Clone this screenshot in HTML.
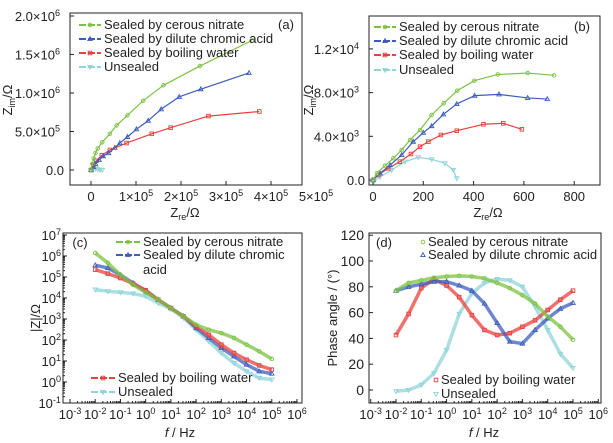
<!DOCTYPE html>
<html><head><meta charset="utf-8"><style>
body{margin:0;background:#fff}
svg{display:block;font-family:"Liberation Sans",sans-serif}
</style></head><body>
<svg id="fig" width="613" height="443" viewBox="0 0 613 443" xmlns="http://www.w3.org/2000/svg"></svg>
<script>
// ---------- data ----------
const seriesNames = ["Sealed by cerous nitrate","Sealed by dilute chromic acid","Sealed by boiling water","Unsealed"];
const colors = ["#7cc242","#3c5dbd","#e8413e","#8fd4d9"];
// (a) Nyquist, Zre in 1e5 ohm, Zim in 1e6 ohm
const aGreenX=[0,0.03,0.06,0.1,0.15,0.25,0.42,0.57,0.81,1.16,1.61,2.42,3.57];
const aGreenY=[0,0.08,0.15,0.22,0.28,0.36,0.47,0.58,0.71,0.90,1.10,1.35,1.68];
const aBlueX=[0,0.05,0.1,0.18,0.27,0.39,0.53,0.64,0.81,1.01,1.27,1.56,1.96,2.44,3.51];
const aBlueY=[0,0.04,0.08,0.13,0.18,0.22,0.29,0.35,0.43,0.53,0.64,0.79,0.95,1.05,1.26];
const aRedX=[0,0.05,0.12,0.24,0.42,0.79,1.35,1.77,2.61,3.74];
const aRedY=[0,0.06,0.12,0.19,0.26,0.35,0.47,0.55,0.70,0.76];
const aCyanX=[0,0.05,0.1,0.15,0.2,0.25];
const aCyanY=[0,0.01,0.02,0.01,0,0];
// (b) Nyquist zoom, ohm
const bGreenX=[0,15,48,81,114,147,187,233,281,335,403,496,615,720];
const bGreenY=[0,610,1320,1990,2750,3660,4580,5950,7020,8180,9090,9660,9790,9580];
const bBlueX=[0,28,68,114,160,200,233,280,333,404,501,615,693];
const bBlueY=[0,610,1370,2290,3510,4330,4940,6010,6960,7720,7840,7510,7410];
const bRedX=[0,21,61,107,151,187,220,270,333,439,518,592];
const bRedY=[0,460,1070,1680,2380,3050,3510,4120,4510,5100,5190,4640];
const bCyanX=[5,28,74,127,180,233,286,319,333];
const bCyanY=[-100,300,915,1680,2080,1890,1530,915,150];
// (c)/(d) Bode, log10 frequency
const logF=[-2,-1.5,-1,-0.5,0,0.5,1,1.5,2,2.5,3,3.5,4,4.5,5];
const cGreen=[6.14,5.67,5.1,4.63,4.27,3.92,3.52,3.13,2.73,2.49,2.33,2.10,1.78,1.46,1.10];
const cBlue=[5.56,5.43,5.1,4.71,4.32,3.92,3.52,3.13,2.57,2.10,1.62,1.22,0.83,0.51,0.40];
const cRed=[5.35,5.16,4.95,4.68,4.37,3.92,3.52,3.13,2.65,2.25,1.78,1.38,1.06,0.79,0.59];
const cCyan=[4.40,4.32,4.27,4.21,4.08,3.76,3.48,3.05,2.49,1.94,1.38,0.90,0.51,0.19,0.11];
const dGreen=[77,83,85,87,88,88.5,88,86.5,83,79,73.5,67,57,49,39];
const dBlue=[77,80,82,84,84,81,77,67,52,37.5,36,46.5,55.5,63,67.6];
const dRed=[42.6,59,79,86,81,72,58,46.5,42.6,44,49,54,62,70,77];
const dCyan=[-1,0,4,13,31,59,75,83,86,85,80,64.5,46.5,28,17];
const aTicksX=[0,1,2,3,4,5];
const aTicksY=[0,0.5,1.0,1.5,2.0];
const bTicksX=[0,200,400,600,800];
const bTicksY=[0,4000,8000,12000];
const logTicksX=[-3,-2,-1,0,1,2,3,4,5,6];
const cTicksY=[-1,0,1,2,3,4,5,6,7];
const dTicksY=[0,20,40,60,80,100,120];

// ---------- helpers ----------
const NS="http://www.w3.org/2000/svg";
const svg=document.getElementById('fig');
function el(tag,attrs,parent){const e=document.createElementNS(NS,tag);for(const k in attrs)e.setAttribute(k,attrs[k]);(parent||svg).appendChild(e);return e;}
function lin(d0,d1,r0,r1){return v=>r0+(v-d0)*(r1-r0)/(d1-d0);}
function supText(g,x,y,base,sup,anchor,size){
  const t=el('text',{x:x,y:y,'text-anchor':anchor,'font-size':size,fill:'#222'},g);
  t.appendChild(document.createTextNode(base));
  if(sup!==null){const s=el('tspan',{dy:-5,'font-size':size*0.7},t);s.textContent=sup;}
  return t;
}
function marker(g,type,x,y,c){
  let m;
  if(type===0) m=el('circle',{cx:x,cy:y,r:1.8,fill:'none',stroke:c,'stroke-width':0.9},g);
  else if(type===1) m=el('polygon',{points:`${x},${y-2.3} ${x-2.2},${y+1.6} ${x+2.2},${y+1.6}`,fill:'none',stroke:c,'stroke-width':0.9},g);
  else if(type===2) m=el('rect',{x:x-1.8,y:y-1.8,width:3.6,height:3.6,fill:'none',stroke:c,'stroke-width':0.9},g);
  else m=el('polygon',{points:`${x},${y+2.3} ${x-2.2},${y-1.6} ${x+2.2},${y-1.6}`,fill:'none',stroke:c,'stroke-width':0.9},g);
  return m;
}
function frame(name,L,T,R,B){
  const r=el('rect',{x:L,y:T,width:R-L,height:B-T,fill:'none',stroke:'#222','stroke-width':1});
  
  
}
function series(g,xs,ys,sx,sy,i,lw,name){
  const sg=el('g',{},g);
  
  
  el('polyline',{points:xs.map((v,k)=>sx(v)+','+sy(ys[k])).join(' '),fill:'none',stroke:colors[i],'stroke-width':lw,'stroke-linejoin':'round','stroke-opacity':lw>2?0.75:1},sg);
  xs.forEach((v,k)=>marker(sg,i,sx(v),sy(ys[k]),colors[i]));
}
function legend(g,x,y,i,text,lineLen,name){
  const lg=el('g',{},g);
  
  
  if(lineLen>0){
    el('line',{x1:x,y1:y-4,x2:x+lineLen,y2:y-4,stroke:colors[i],'stroke-width':2,'stroke-dasharray':'7 2'},lg);
    marker(lg,i,x+lineLen/2,y-4,colors[i]);
  } else marker(lg,i,x,y-4,colors[i]);
  const t=el('text',{x:x+(lineLen>0?lineLen+3:5),y:y,'font-size':13,fill:'#222'},lg);
  t.textContent=text;
}
function rotLabel(x,y,name,parts){
  const t=el('text',{transform:`translate(${x},${y}) rotate(-90)`,'text-anchor':'middle','font-size':13,fill:'#222'});
  
  
  parts.forEach(p=>{const s=el('tspan',p[1]?{'font-size':9,dy:3}:{dy:p[2]||0},t);s.textContent=p[0];});
}
function hLabel(x,y,name,parts){
  const t=el('text',{x:x,y:y,'text-anchor':'middle','font-size':13,fill:'#222'});
  
  
  parts.forEach(p=>{const a={};if(p[1]){a['font-size']=9;a.dy=3;}if(p[2]){a.dy=p[2];}if(p[3])a['font-style']='italic';const s=el('tspan',a,t);s.textContent=p[0];});
}

// ---------- panel (a) ----------
{
const L=70,T=13,R=302,B=185;
const sx=lin(0,1,91,136), sy=lin(0,0.5,170,131.5);
const g=el('g',{});
frame('panel-a',L,T,R,B);
aTicksX.forEach(v=>{const x=sx(v);if(x<R)el('line',{x1:x,y1:B,x2:x,y2:B-4,stroke:'#222'},g);
  if(v===0) supText(g,x,201,'0',null,'middle',13); else supText(g,x,201,v+'×10','5','middle',13);});
aTicksY.forEach(v=>{const y=sy(v);el('line',{x1:L,y1:y,x2:L+4,y2:y,stroke:'#222'},g);
  if(v===0) supText(g,L-6,y+5,'0.0',null,'end',13);
  else if(v===0.5) supText(g,L-10,y+5,'5.0×10','5','end',13);
  else supText(g,L-10,y+5,v.toFixed(1)+'×10','6','end',13);});
series(g,aCyanX,aCyanY,sx,sy,3,1.2,'a-series-unsealed');
series(g,aRedX,aRedY,sx,sy,2,1.2,'a-series-boiling-water');
series(g,aBlueX,aBlueY,sx,sy,1,1.2,'a-series-chromic-acid');
series(g,aGreenX,aGreenY,sx,sy,0,1.2,'a-series-cerous-nitrate');
[25,39,53,67].forEach((y,i)=>legend(g,79,y+4,i,seriesNames[i],22,'a-legend-'+i));
const p=el('text',{x:286,y:29,'font-size':13,'text-anchor':'middle',fill:'#222'},g);p.textContent='(a)';
rotLabel(12,100,'a-y-axis-title',[['Z'],['im',true],['/Ω',false,-3]]);
hLabel(185,217,'a-x-axis-title',[['Z'],['re',true],['/Ω',false,-3]]);
}
// ---------- panel (b) ----------
{
const L=369,T=16,R=600,B=185;
const sx=lin(0,200,373,423.3), sy=lin(0,4000,180,136.3);
const g=el('g',{});
frame('panel-b',L,T,R,B);
bTicksX.forEach(v=>{const x=sx(v);el('line',{x1:x,y1:B,x2:x,y2:B-4,stroke:'#222'},g);supText(g,x,201,String(v),null,'middle',13);});
bTicksY.forEach(v=>{const y=sy(v);el('line',{x1:L,y1:y,x2:L+4,y2:y,stroke:'#222'},g);
  if(v===0) supText(g,L-4,y+5,'0.0',null,'end',13);
  else if(v<10000) supText(g,L-10,y+5,(v/1000).toFixed(1)+'×10','3','end',13);
  else supText(g,L-10,y+5,(v/10000).toFixed(1)+'×10','4','end',13);});
series(g,bCyanX,bCyanY,sx,sy,3,1.2,'b-series-unsealed');
series(g,bRedX,bRedY,sx,sy,2,1.2,'b-series-boiling-water');
series(g,bBlueX,bBlueY,sx,sy,1,1.2,'b-series-chromic-acid');
series(g,bGreenX,bGreenY,sx,sy,0,1.2,'b-series-cerous-nitrate');
[27,41,55,70].forEach((y,i)=>legend(g,374,y+4,i,seriesNames[i],22,'b-legend-'+i));
const p=el('text',{x:582,y:31,'font-size':13,'text-anchor':'middle',fill:'#222'},g);p.textContent='(b)';
rotLabel(313,100,'b-y-axis-title',[['Z'],['im',true],['/Ω',false,-3]]);
hLabel(488,217,'b-x-axis-title',[['Z'],['re',true],['/Ω',false,-3]]);
}
// ---------- log-x panels ----------
function logAxisX(g,sx,L,R,B){
  logTicksX.forEach(v=>{const x=sx(v);el('line',{x1:x,y1:B,x2:x,y2:B-4,stroke:'#222'},g);
    supText(g,x,419,'10',String(v),'middle',13);
    if(v<6)for(let m=2;m<10;m++){const xm=sx(v+Math.log10(m));el('line',{x1:xm,y1:B,x2:xm,y2:B-2,stroke:'#222'},g);}});
}
// ---------- panel (c) ----------
{
const L=63,T=233,R=302,B=403;
const sx=lin(-3,6,70,297), sy=lin(0,1,382,361);
const g=el('g',{});
frame('panel-c',L,T,R,B);
logAxisX(g,sx,L,R,B);
cTicksY.forEach(v=>{const y=sy(v);el('line',{x1:L,y1:y,x2:L+4,y2:y,stroke:'#222'},g);
  supText(g,L-2,y+5,'10',String(v),'end',13);
  if(v<7)for(let m=2;m<10;m++){const ym=sy(v+Math.log10(m));el('line',{x1:L,y1:ym,x2:L+2,y2:ym,stroke:'#222'},g);}});
series(g,logF,cCyan,sx,sy,3,3.5,'c-series-unsealed');
series(g,logF,cBlue,sx,sy,1,3.5,'c-series-chromic-acid');
series(g,logF,cRed,sx,sy,2,3.5,'c-series-boiling-water');
series(g,logF,cGreen,sx,sy,0,3.5,'c-series-cerous-nitrate');
legend(g,116,246,0,seriesNames[0],24,'c-legend-0');
legend(g,116,259,1,'Sealed by dilute chromic',24,'c-legend-1');
const a=el('text',{x:143,y:274,'font-size':13,fill:'#222'},g);a.textContent='acid';
legend(g,91,382,2,seriesNames[2],24,'c-legend-2');
legend(g,91,396,3,seriesNames[3],24,'c-legend-3');
const p=el('text',{x:80,y:247,'font-size':13,'text-anchor':'middle',fill:'#222'},g);p.textContent='(c)';
rotLabel(40,318,'c-y-axis-title',[['|Z|/Ω']]);
hLabel(180,437,'c-x-axis-title',[['f',false,0,true],[' / Hz']]);
}
// ---------- panel (d) ----------
{
const L=369,T=233,R=601,B=403;
const sx=lin(-2,5,396,573), sy=lin(0,20,390,364.2);
const g=el('g',{});
frame('panel-d',L,T,R,B);
logAxisX(g,sx,L,R,B);
dTicksY.forEach(v=>{const y=sy(v);el('line',{x1:L,y1:y,x2:L+4,y2:y,stroke:'#222'},g);supText(g,L-5,y+5,String(v),null,'end',14);});
series(g,logF,dCyan,sx,sy,3,3.5,'d-series-unsealed');
series(g,logF,dRed,sx,sy,2,3.5,'d-series-boiling-water');
series(g,logF,dBlue,sx,sy,1,3.5,'d-series-chromic-acid');
series(g,logF,dGreen,sx,sy,0,3.5,'d-series-cerous-nitrate');
legend(g,423,246,0,seriesNames[0],0,'d-legend-0');
legend(g,423,259,1,seriesNames[1],0,'d-legend-1');
legend(g,436,384,2,seriesNames[2],0,'d-legend-2');
legend(g,436,398,3,seriesNames[3],0,'d-legend-3');
const p=el('text',{x:384,y:247,'font-size':13,'text-anchor':'middle',fill:'#222'},g);p.textContent='(d)';
rotLabel(337,318,'d-y-axis-title',[['Phase angle / (°)']]);
hLabel(484,437,'d-x-axis-title',[['f',false,0,true],[' / Hz']]);
}
</script>
</body></html>
